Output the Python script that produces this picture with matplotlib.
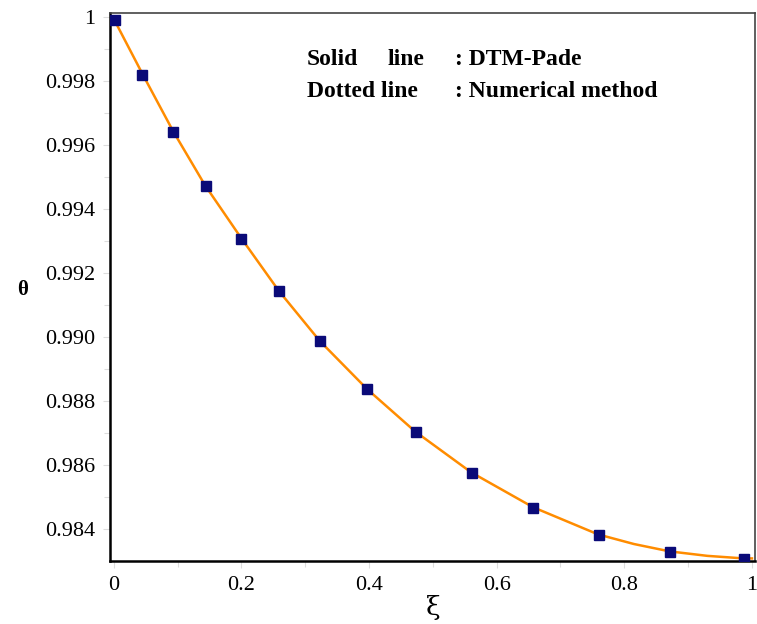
import matplotlib.pyplot as plt
from matplotlib.ticker import MultipleLocator

# DTM-Pade solution (solid line)
xi_pade = [0.0, 0.046, 0.093, 0.143, 0.200, 0.259, 0.323, 0.397, 0.472,
           0.560, 0.657, 0.759, 0.815, 0.871, 0.930, 0.987, 1.0]
theta_pade = [0.99995, 0.99819, 0.99644, 0.99475, 0.99309, 0.99144, 0.98988,
              0.98838, 0.98706, 0.98578, 0.98469, 0.98384, 0.98354, 0.98331,
              0.98317, 0.98309, 0.98309]

# numerical solution (markers)
xi_num = [0.002, 0.045, 0.093, 0.144, 0.199, 0.259, 0.324, 0.397, 0.473,
          0.562, 0.657, 0.760, 0.872, 0.988]
theta_num = [0.99991, 0.99819, 0.99640, 0.99473, 0.99308, 0.99145, 0.98988,
             0.98838, 0.98705, 0.98576, 0.98467, 0.98383, 0.98329, 0.98308]

xticks = [0, 0.2, 0.4, 0.6, 0.8, 1.0]
xticklabels = ['0', '0.2', '0.4', '0.6', '0.8', '1']
yticks = [0.984, 0.986, 0.988, 0.990, 0.992, 0.994, 0.996, 0.998, 1.0]
yticklabels = ['0.984', '0.986', '0.988', '0.990', '0.992', '0.994', '0.996', '0.998', '1']

plt.rcParams['font.family'] = ['Liberation Serif', 'DejaVu Serif']

fig = plt.figure(figsize=(7.57, 6.24), dpi=100)
ax = fig.add_axes([0.1453, 0.101, 0.852, 0.878])

ax.plot(xi_pade, theta_pade, color='#ff8c00', lw=1.8, zorder=2)
ax.plot(xi_num, theta_num, 's', color='#0a0a78', markersize=6.5, zorder=3)

ax.set_xlim(-0.0058, 1.0047)
ax.set_ylim(0.98301, 1.000125)
ax.set_xticks(xticks)
ax.set_xticklabels(xticklabels)
ax.set_yticks(yticks)
ax.set_yticklabels(yticklabels)
ax.xaxis.set_minor_locator(MultipleLocator(0.1))
ax.yaxis.set_minor_locator(MultipleLocator(0.001))
ax.tick_params(which='both', direction='out', color='#dddddd', labelsize=16, width=0.8)
ax.tick_params(which='major', length=5)
ax.tick_params(which='minor', length=4)
ax.tick_params(axis='x', pad=6)
ax.tick_params(axis='y', pad=5.5)

for side in ['left', 'bottom']:
    ax.spines[side].set_linewidth(1.8)
    ax.spines[side].set_color('black')
for side in ['top', 'right']:
    ax.spines[side].set_linewidth(1.2)
    ax.spines[side].set_color('#444444')

ax.set_xlabel('ξ', fontsize=19, va='center', family='DejaVu Serif')
ax.xaxis.set_label_coords(0.501, -0.0858)
ax.set_ylabel('θ', fontsize=15, fontweight='bold', rotation=0, va='center', ha='center')
ax.yaxis.set_label_coords(-0.136, 0.494)

# key text, laid out in columns so the colons line up
key = dict(transform=ax.transAxes, fontsize=17, fontweight='bold', va='baseline')
ax.text(0.3054, 0.905, 'Solid', **key)
ax.text(0.4310, 0.905, 'line', **key)
ax.text(0.535, 0.905, ': DTM-Pade', **key)
ax.text(0.3054, 0.847, 'Dotted line', **key)
ax.text(0.535, 0.847, ': Numerical method', **key)

fig.savefig('out.png', dpi=100)
